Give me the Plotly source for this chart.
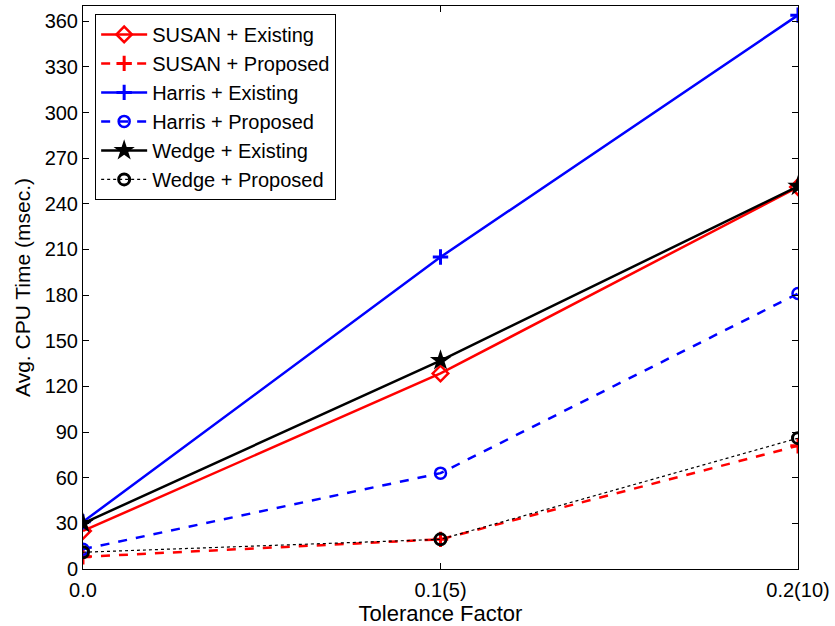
import plotly.graph_objects as go

x_vals = [0.0, 0.1, 0.2]
x_labels = ["0.0", "0.1(5)", "0.2(10)"]

susan_existing = [25, 128.5, 251]
susan_proposed = [8, 19.5, 81]
harris_existing = [31, 205, 364]
harris_proposed = [13, 63, 181]
wedge_existing = [30, 137, 251.5]
wedge_proposed = [11, 19.5, 86]

y_ticks = list(range(0, 361, 30))

series = [
    ("SUSAN + Existing", susan_existing, "red", "solid", 2.5, "diamond-open", 12, 2.5),
    ("SUSAN + Proposed", susan_proposed, "red", "dash", 2.5, "cross-thin-open", 11, 3),
    ("Harris + Existing", harris_existing, "blue", "solid", 2.5, "cross-thin-open", 11, 3),
    ("Harris + Proposed", harris_proposed, "blue", "dash", 2.5, "circle-open", 11, 2.5),
    ("Wedge + Existing", wedge_existing, "black", "solid", 2.5, "star", 16, 0),
    ("Wedge + Proposed", wedge_proposed, "black", "dot", 1.2, "circle-open", 11, 3),
]

fig = go.Figure()
for name, ys, color, dash, lw, sym, msize, mlw in series:
    fig.add_trace(go.Scatter(
        x=x_vals, y=ys, name=name, mode="lines+markers",
        line=dict(color=color, dash=dash, width=lw),
        marker=dict(symbol=sym, size=msize, color=color,
                    line=dict(color=color, width=mlw)),
    ))

axis_common = dict(
    showline=True, linecolor="black", linewidth=1, mirror="ticks",
    ticks="inside", ticklen=6, tickcolor="black", showgrid=False,
    zeroline=False, tickfont=dict(size=20, color="black"), automargin=False,
)

fig.update_layout(
    width=835, height=626,
    margin=dict(l=83, r=37, t=6, b=57),
    paper_bgcolor="white", plot_bgcolor="white",
    font=dict(family="Liberation Sans, Arial, sans-serif", size=20, color="black"),
    xaxis=dict(range=[0, 0.2], tickvals=x_vals, ticktext=x_labels,
               ticklabelstandoff=3,
               title=dict(text="Tolerance Factor", font=dict(size=22), standoff=0),
               **axis_common),
    yaxis=dict(range=[0, 370], tickvals=y_ticks,
               title=dict(text="Avg. CPU Time (msec.)", font=dict(size=21), standoff=8),
               **axis_common),
    legend=dict(x=0.017, y=0.986, xanchor="left", yanchor="top",
                bgcolor="white", bordercolor="black", borderwidth=1,
                font=dict(size=20), tracegroupgap=0, itemwidth=46),
    showlegend=True,
)

fig.write_html("out.html", config={"displayModeBar": False},
               post_script="document.body.style.margin='0px';document.body.style.overflow='hidden';")
